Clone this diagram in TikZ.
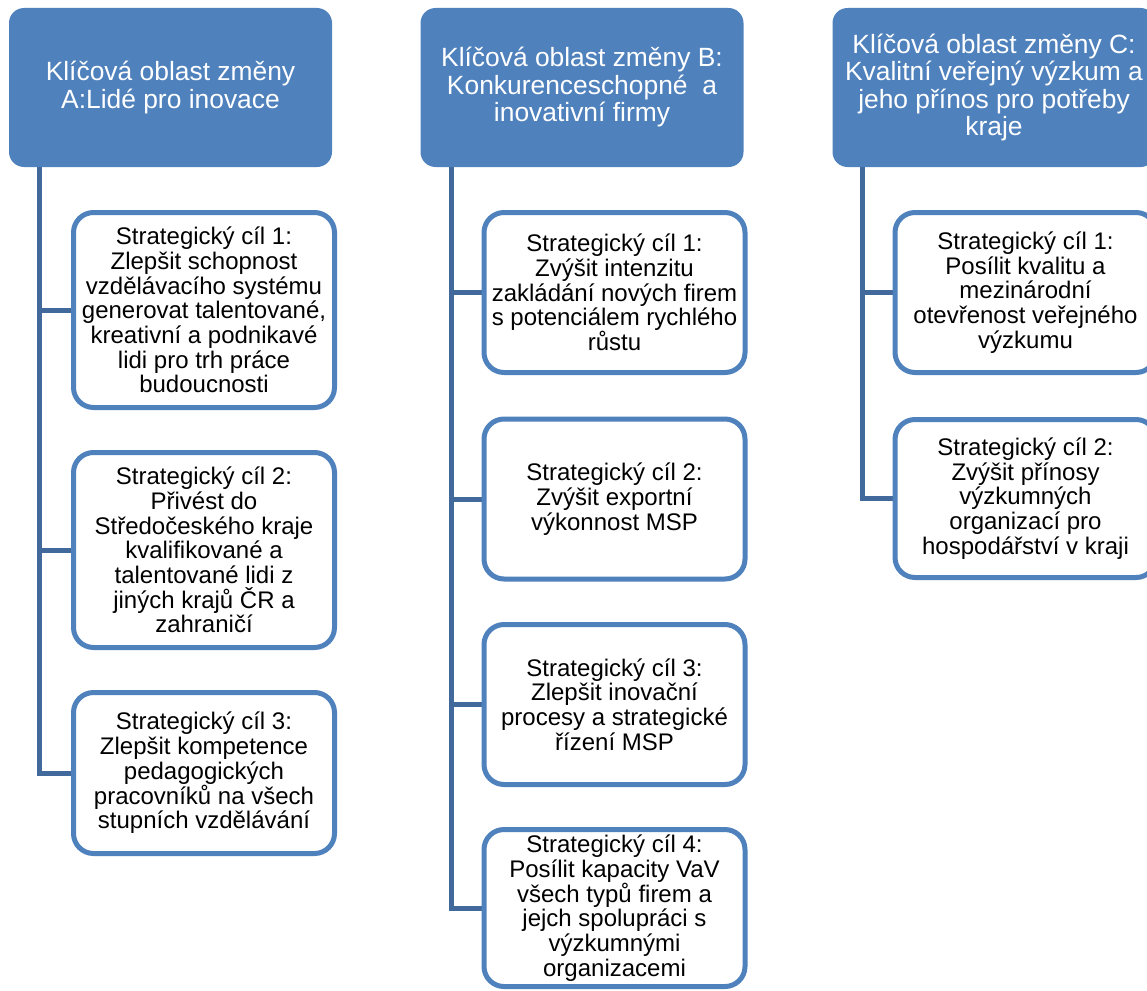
\documentclass[tikz,border=0pt]{standalone}
\usepackage{fontspec}
\setmainfont{Liberation Sans}
\definecolor{hdrblue}{HTML}{4F81BD}
\definecolor{boxblue}{HTML}{4F81BD}
\definecolor{connblue}{HTML}{41699C}
\pgfdeclarelayer{bg}
\pgfsetlayers{bg,main}
\begin{document}
\begin{tikzpicture}[x=1pt,y=-1pt,
  hdr/.style={fill=hdrblue, draw=none, rounded corners=15pt, minimum width=323pt, minimum height=159pt,
    inner sep=0pt, align=center, text=white, font=\fontsize{26.4}{27.5}\selectfont},
  goal/.style={fill=white, draw=boxblue, line width=5pt, rounded corners=20pt, minimum width=261pt,
    inner sep=0pt, align=center, text=black, font=\fontsize{24}{24.7}\selectfont},
  conn/.style={draw=connblue, line width=5pt}]
\useasboundingbox (0,0) rectangle (1147,990);
\clip (0,0) rectangle (1147,990);

% headers
\node[hdr] (hA) at (170.5,87.5) {Klíčová oblast změny\\A:Lidé pro inovace};
\node[hdr] (hB) at (582,87.5) {Klíčová oblast změny B:\\Konkurenceschopné \ a\\inovativní firmy};
\node[hdr] (hC) at (994,87.5) {Klíčová oblast změny C:\\Kvalitní veřejný výzkum a\\jeho přínos pro potřeby\\kraje};

% trunk start points
\coordinate (tA) at ([xshift=31pt,yshift=2pt]hA.south west);
\coordinate (tB) at ([xshift=31pt,yshift=2pt]hB.south west);
\coordinate (tC) at ([xshift=30pt,yshift=2pt]hC.south west);

% column A boxes
\node[goal, minimum height=195pt] (a1) at (204,310) {Strategický cíl 1:\\Zlepšit schopnost\\vzdělávacího systému\\generovat talentované,\\kreativní a podnikavé\\lidi pro trh práce\\budoucnosti};
\node[goal, minimum height=195pt] (a2) at (204,550) {Strategický cíl 2:\\Přivést do\\Středočeského kraje\\kvalifikované a\\talentované lidi z\\jiných krajů ČR a\\zahraničí};
\node[goal, minimum height=161pt] (a3) at (204,773) {Strategický cíl 3:\\Zlepšit kompetence\\pedagogických\\pracovníků na všech\\stupních vzdělávání};

% column B boxes
\node[goal, minimum height=160pt] (b1) at (614.5,292.5) {Strategický cíl 1:\\Zvýšit intenzitu\\zakládání nových firem\\s potenciálem rychlého\\růstu};
\node[goal, minimum height=160pt] (b2) at (614.5,499) {Strategický cíl 2:\\Zvýšit exportní\\výkonnost MSP};
\node[goal, minimum height=160pt] (b3) at (614.5,704.5) {Strategický cíl 3:\\Zlepšit inovační\\procesy a strategické\\řízení MSP};
\node[goal, minimum height=157pt] (b4) at (614.5,908) {Strategický cíl 4:\\Posílit kapacity VaV\\všech typů firem a\\jejch spolupráci s\\výzkumnými\\organizacemi};

% column C boxes
\node[goal, minimum height=160pt] (c1) at (1025.5,292.5) {Strategický cíl 1:\\Posílit kvalitu a\\mezinárodní\\otevřenost veřejného\\výzkumu};
\node[goal, minimum height=158pt] (c2) at (1025.5,498.5) {Strategický cíl 2:\\Zvýšit přínosy\\výzkumných\\organizací pro\\hospodářství v kraji};

% connectors (behind boxes)
\begin{pgfonlayer}{bg}
\draw[conn] (tA) |- (a3.west);
\draw[conn] (tA |- a1.west) -- (a1.west);
\draw[conn] (tA |- a2.west) -- (a2.west);
\draw[conn] (tB) |- (b4.west);
\draw[conn] (tB |- b1.west) -- (b1.west);
\draw[conn] (tB |- b2.west) -- (b2.west);
\draw[conn] (tB |- b3.west) -- (b3.west);
\draw[conn] (tC) |- (c2.west);
\draw[conn] (tC |- c1.west) -- (c1.west);
\end{pgfonlayer}
\end{tikzpicture}
\end{document}
